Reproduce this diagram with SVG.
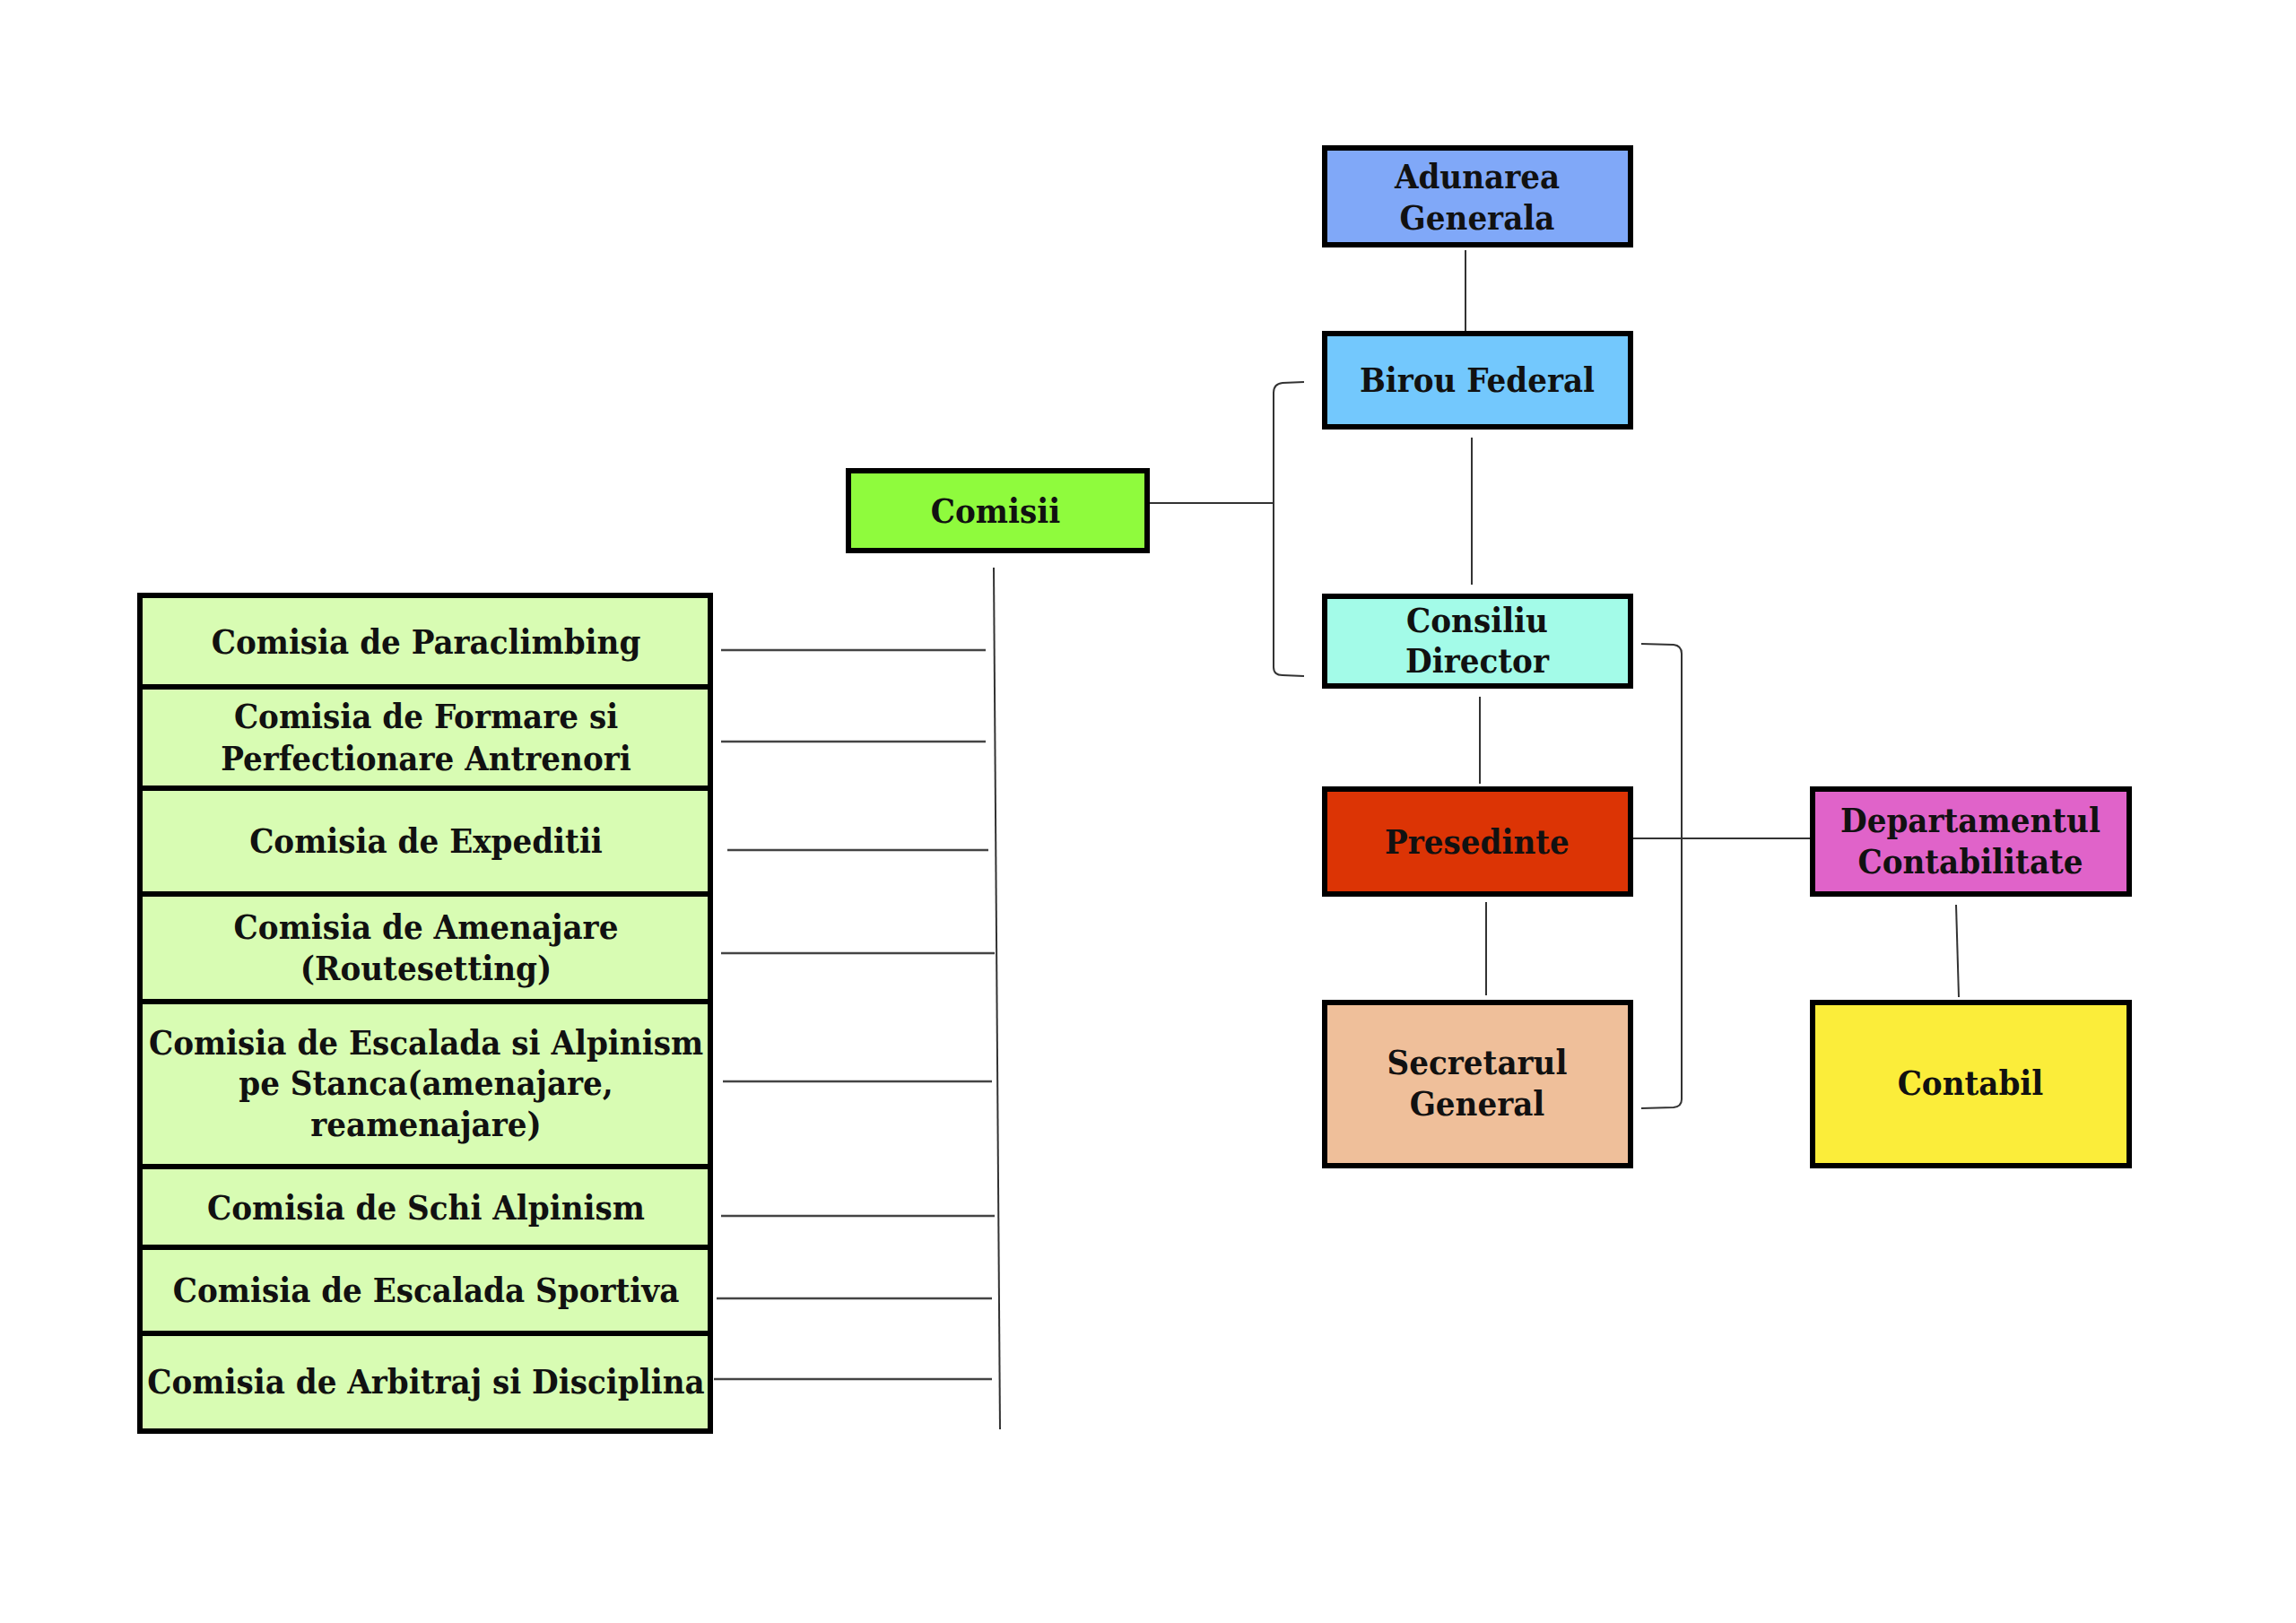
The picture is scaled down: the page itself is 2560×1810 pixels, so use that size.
<svg xmlns="http://www.w3.org/2000/svg" width="2560" height="1810" viewBox="0 0 2560 1810">
<style>
.box{stroke:#000;stroke-width:6}
.t{font-family:"DejaVu Serif Condensed","DejaVu Serif","Liberation Serif",serif;font-stretch:condensed;font-weight:bold;font-size:38px;fill:#111;text-anchor:middle}
.ln{fill:none;stroke:#333;stroke-width:2}
.cl{fill:none;stroke:#444;stroke-width:2.6}
</style>
<rect width="2560" height="1810" fill="#fff"/>
<g id="connectors">
<line class="ln" x1="1634" y1="279" x2="1634" y2="369"/>
<line class="ln" x1="1641" y1="488" x2="1641" y2="652"/>
<line class="ln" x1="1650" y1="777" x2="1650" y2="874"/>
<line class="ln" x1="1657" y1="1006" x2="1657" y2="1110"/>
<line class="ln" x1="1821" y1="935" x2="2018" y2="935"/>
<line class="ln" x1="2181" y1="1009" x2="2184" y2="1112"/>
<path class="ln" d="M1454,426 L1430,427 Q1420,428 1420,438 L1420,744 Q1420,753 1430,753 L1454,754"/>
<line class="ln" x1="1282" y1="561" x2="1420" y2="561"/>
<path class="ln" d="M1830,718 L1866,719 Q1875,720 1875,729 L1875,1226 Q1875,1234 1866,1235 L1830,1236"/>
<line class="ln" x1="1108" y1="633" x2="1115" y2="1594"/>
<line class="cl" x1="804" y1="725" x2="1099" y2="725"/>
<line class="cl" x1="804" y1="827" x2="1099" y2="827"/>
<line class="cl" x1="811" y1="948" x2="1102" y2="948"/>
<line class="cl" x1="804" y1="1063" x2="1109" y2="1063"/>
<line class="cl" x1="806" y1="1206" x2="1106" y2="1206"/>
<line class="cl" x1="804" y1="1356" x2="1109" y2="1356"/>
<line class="cl" x1="799" y1="1448" x2="1106" y2="1448"/>
<line class="cl" x1="796" y1="1538" x2="1106" y2="1538"/>
</g>
<g id="adunarea">
<rect class="box" x="1477" y="165" width="341" height="108" fill="#80a8f8"/>
<text class="t" x="1647" y="210">Adunarea</text>
<text class="t" x="1647" y="256">Generala</text>
</g>
<g id="birou">
<rect class="box" x="1477" y="372" width="341" height="104" fill="#73c8fd"/>
<text class="t" x="1647" y="437">Birou Federal</text>
</g>
<g id="consiliu">
<rect class="box" x="1477" y="665" width="341" height="100" fill="#a3fbe8"/>
<text class="t" x="1647" y="705">Consiliu</text>
<text class="t" x="1647" y="750">Director</text>
</g>
<g id="presedinte">
<rect class="box" x="1477" y="880" width="341" height="117" fill="#dc3405"/>
<text class="t" x="1647" y="952">Presedinte</text>
</g>
<g id="departamentul">
<rect class="box" x="2021" y="880" width="353" height="117" fill="#e063c9"/>
<text class="t" x="2197" y="928">Departamentul</text>
<text class="t" x="2197" y="974">Contabilitate</text>
</g>
<g id="secretarul">
<rect class="box" x="1477" y="1118" width="341" height="182" fill="#efbf9a"/>
<text class="t" x="1647" y="1198">Secretarul</text>
<text class="t" x="1647" y="1244">General</text>
</g>
<g id="contabil">
<rect class="box" x="2021" y="1118" width="353" height="182" fill="#fbed3a"/>
<text class="t" x="2197" y="1221">Contabil</text>
</g>
<g id="comisii">
<rect class="box" x="946" y="525" width="333" height="89" fill="#8ffb3d"/>
<text class="t" x="1110" y="583">Comisii</text>
</g>
<g id="c1">
<rect class="box" x="156" y="664" width="636" height="102" fill="#d8fcb3"/>
<text class="t" x="475" y="729">Comisia de Paraclimbing</text>
</g>
<g id="c2">
<rect class="box" x="156" y="766" width="636" height="113" fill="#d8fcb3"/>
<text class="t" x="475" y="812">Comisia de Formare si</text>
<text class="t" x="475" y="859">Perfectionare Antrenori</text>
</g>
<g id="c3">
<rect class="box" x="156" y="879" width="636" height="118" fill="#d8fcb3"/>
<text class="t" x="475" y="951">Comisia de Expeditii</text>
</g>
<g id="c4">
<rect class="box" x="156" y="997" width="636" height="120" fill="#d8fcb3"/>
<text class="t" x="475" y="1047">Comisia de Amenajare</text>
<text class="t" x="475" y="1093">(Routesetting)</text>
</g>
<g id="c5">
<rect class="box" x="156" y="1117" width="636" height="184" fill="#d8fcb3"/>
<text class="t" x="475" y="1176">Comisia de Escalada si Alpinism</text>
<text class="t" x="475" y="1221">pe Stanca(amenajare,</text>
<text class="t" x="475" y="1267">reamenajare)</text>
</g>
<g id="c6">
<rect class="box" x="156" y="1301" width="636" height="90" fill="#d8fcb3"/>
<text class="t" x="475" y="1360">Comisia de Schi Alpinism</text>
</g>
<g id="c7">
<rect class="box" x="156" y="1391" width="636" height="96" fill="#d8fcb3"/>
<text class="t" x="475" y="1452">Comisia de Escalada Sportiva</text>
</g>
<g id="c8">
<rect class="box" x="156" y="1487" width="636" height="109" fill="#d8fcb3"/>
<text class="t" x="475" y="1554">Comisia de Arbitraj si Disciplina</text>
</g>
</svg>
